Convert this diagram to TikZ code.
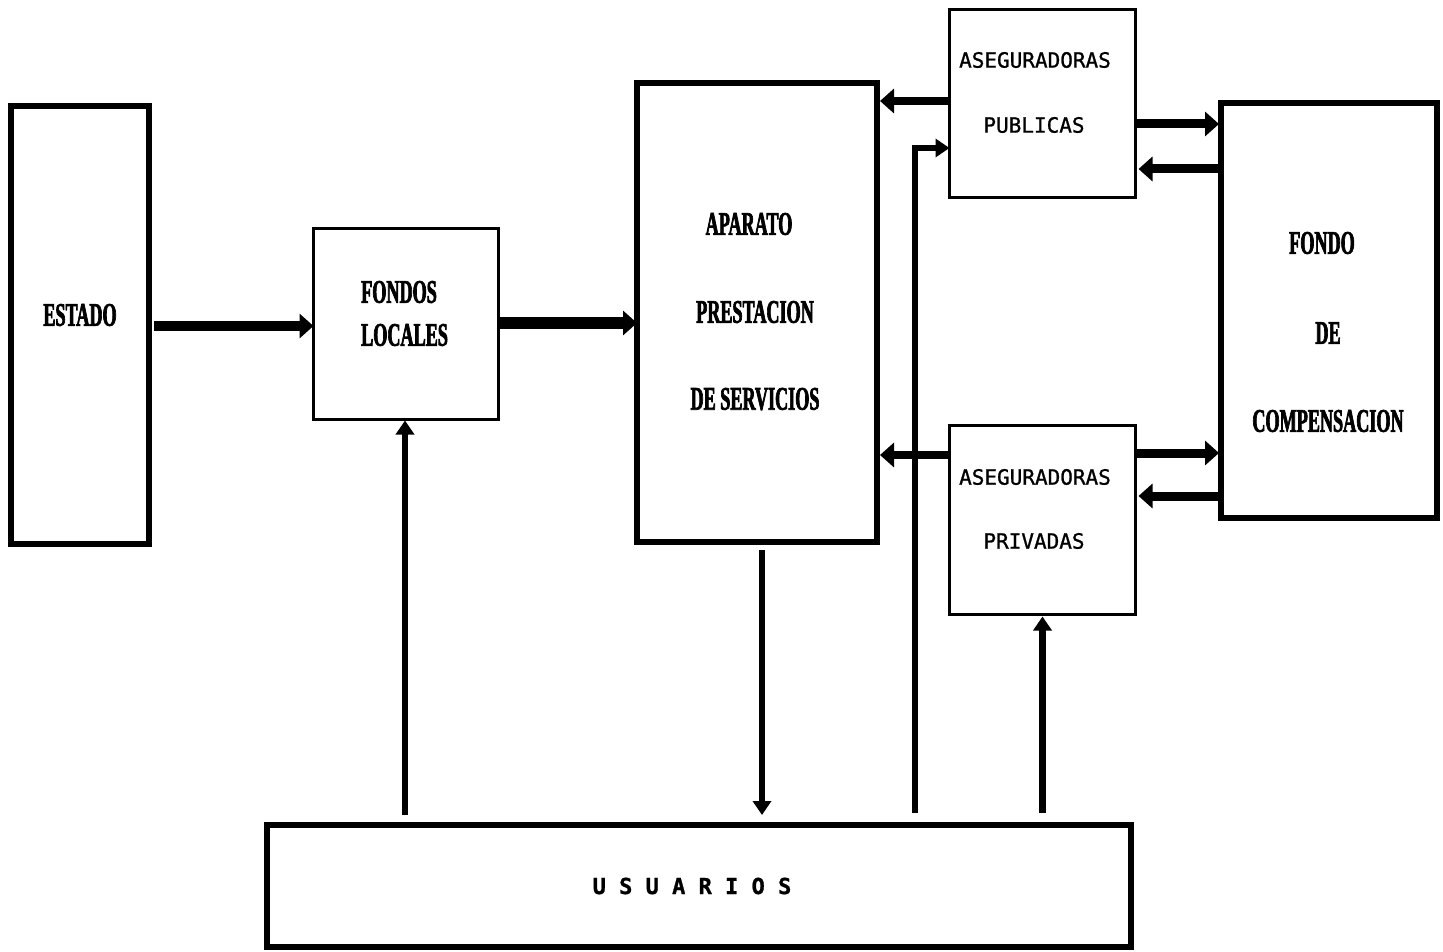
\documentclass[tikz,border=0pt]{standalone}
\usepackage{fontspec}
\usetikzlibrary{arrows.meta,calc}
\newfontfamily\condfont{Liberation Serif}[FakeStretch=0.55,UprightFont={* Bold},FakeBold=2]
\newfontfamily\pixmono{DejaVu Sans Mono}[FakeBold=1]
\begin{document}
\begin{tikzpicture}[x=1pt,y=-1pt,
  box/.style={draw,line width=6pt,minimum width=#1,inner sep=0pt,outer sep=0pt},
  thinbox/.style={draw,line width=3.5pt,inner sep=0pt,outer sep=0pt},
  lab/.style={font=\condfont\fontsize{33}{33}\selectfont,inner sep=0pt},
  mlab/.style={font=\pixmono\fontsize{21}{21}\selectfont,inner sep=0pt},
  harr/.style={line width=10pt,-{Triangle[length=14pt,width=24pt]}},
  varr/.style={line width=6.5pt,-{Triangle[length=14pt,width=18pt]}},
]
\useasboundingbox (0,0) rectangle (1443,952);
% boxes
\node[box=138pt,minimum height=438pt] (estado) at (80,325) {};
\node[thinbox,minimum width=185pt,minimum height=191pt] (fondos) at (406,324) {};
\node[box=240pt,minimum height=459pt] (aparato) at (757,312.5) {};
\node[thinbox,minimum width=186pt,minimum height=188pt] (apub) at (1042.5,103.5) {};
\node[thinbox,minimum width=186pt,minimum height=189pt] (apriv) at (1042.5,520) {};
\node[box=216pt,minimum height=415pt] (fondo) at (1329,310.5) {};
\node[box=864pt,minimum height=122pt] (usuarios) at (699,886) {};
% labels
\node[lab] (t1) at (80,315) {ESTADO};
\node[lab,anchor=west] (t2) at (361,292) {FONDOS};
\node[lab,anchor=west] (t3) at (361,335) {LOCALES};
\node[lab] (t4) at (749,224) {APARATO};
\node[lab] (t5) at (755,312) {PRESTACION};
\node[lab] (t6) at (755,399) {DE SERVICIOS};
\node[mlab] (t7) at (1035,60) {ASEGURADORAS};
\node[mlab] (t8) at (1034,125) {PUBLICAS};
\node[mlab] (t9) at (1035,477) {ASEGURADORAS};
\node[mlab] (t10) at (1034,541) {PRIVADAS};
\node[lab] (t11) at (1322,243) {FONDO};
\node[lab] (t12) at (1328,333) {DE};
\node[lab] (t13) at (1328,421) {COMPENSACION};
\node[font=\pixmono\bfseries\fontsize{22}{22}\selectfont,inner sep=0pt] (t14) at (692,886) {U S U A R I O S};
% connectors
\coordinate (bend) at (915,148);
\draw[line width=6.5pt,-{Triangle[length=14pt,width=18pt]},shorten <=12pt] (bend |- usuarios.north) -- (bend) -- (bend -| apub.west);
\draw[harr,shorten <=5pt] ([yshift=-1pt]estado.east) -- ([yshift=-1pt]estado.east -| fondos.west);
\draw[harr,line width=12pt] ([yshift=1pt]fondos.east) -- ([yshift=1pt]fondos.east -| aparato.west);
\draw[harr,line width=8pt,shorten >=3pt] ([yshift=2.5pt]apub.west) -- ([yshift=2.5pt]apub.west -| aparato.east);
\draw[harr,line width=9pt,shorten >=2pt] ([yshift=-20.5pt]apub.east) -- ([yshift=-20.5pt]apub.east -| fondo.west);
\draw[harr,line width=9pt,shorten <=2pt,shorten >=3pt] ([yshift=-65.5pt]apub.east -| fondo.west) -- ([yshift=-65.5pt]apub.east);
\draw[harr,line width=8pt,shorten >=3pt] ([yshift=65pt]apriv.west) -- ([yshift=65pt]apriv.west -| aparato.east);
\draw[harr,line width=9pt,shorten >=2pt] ([yshift=67pt]apriv.east) -- ([yshift=67pt]apriv.east -| fondo.west);
\draw[harr,line width=9pt,shorten <=2pt,shorten >=3pt] ([yshift=24pt]apriv.east -| fondo.west) -- ([yshift=24pt]apriv.east);
\draw[varr,shorten <=10pt,shorten >=1pt] ([xshift=-1pt]fondos.south |- usuarios.north) -- ([xshift=-1pt]fondos.south);
\draw[varr,shorten <=8pt,shorten >=10pt] ([xshift=5pt]aparato.south) -- ([xshift=5pt]aparato.south |- usuarios.north);
\draw[varr,shorten <=12pt,shorten >=2pt] (apriv.south |- usuarios.north) -- (apriv.south);
\end{tikzpicture}
\end{document}
